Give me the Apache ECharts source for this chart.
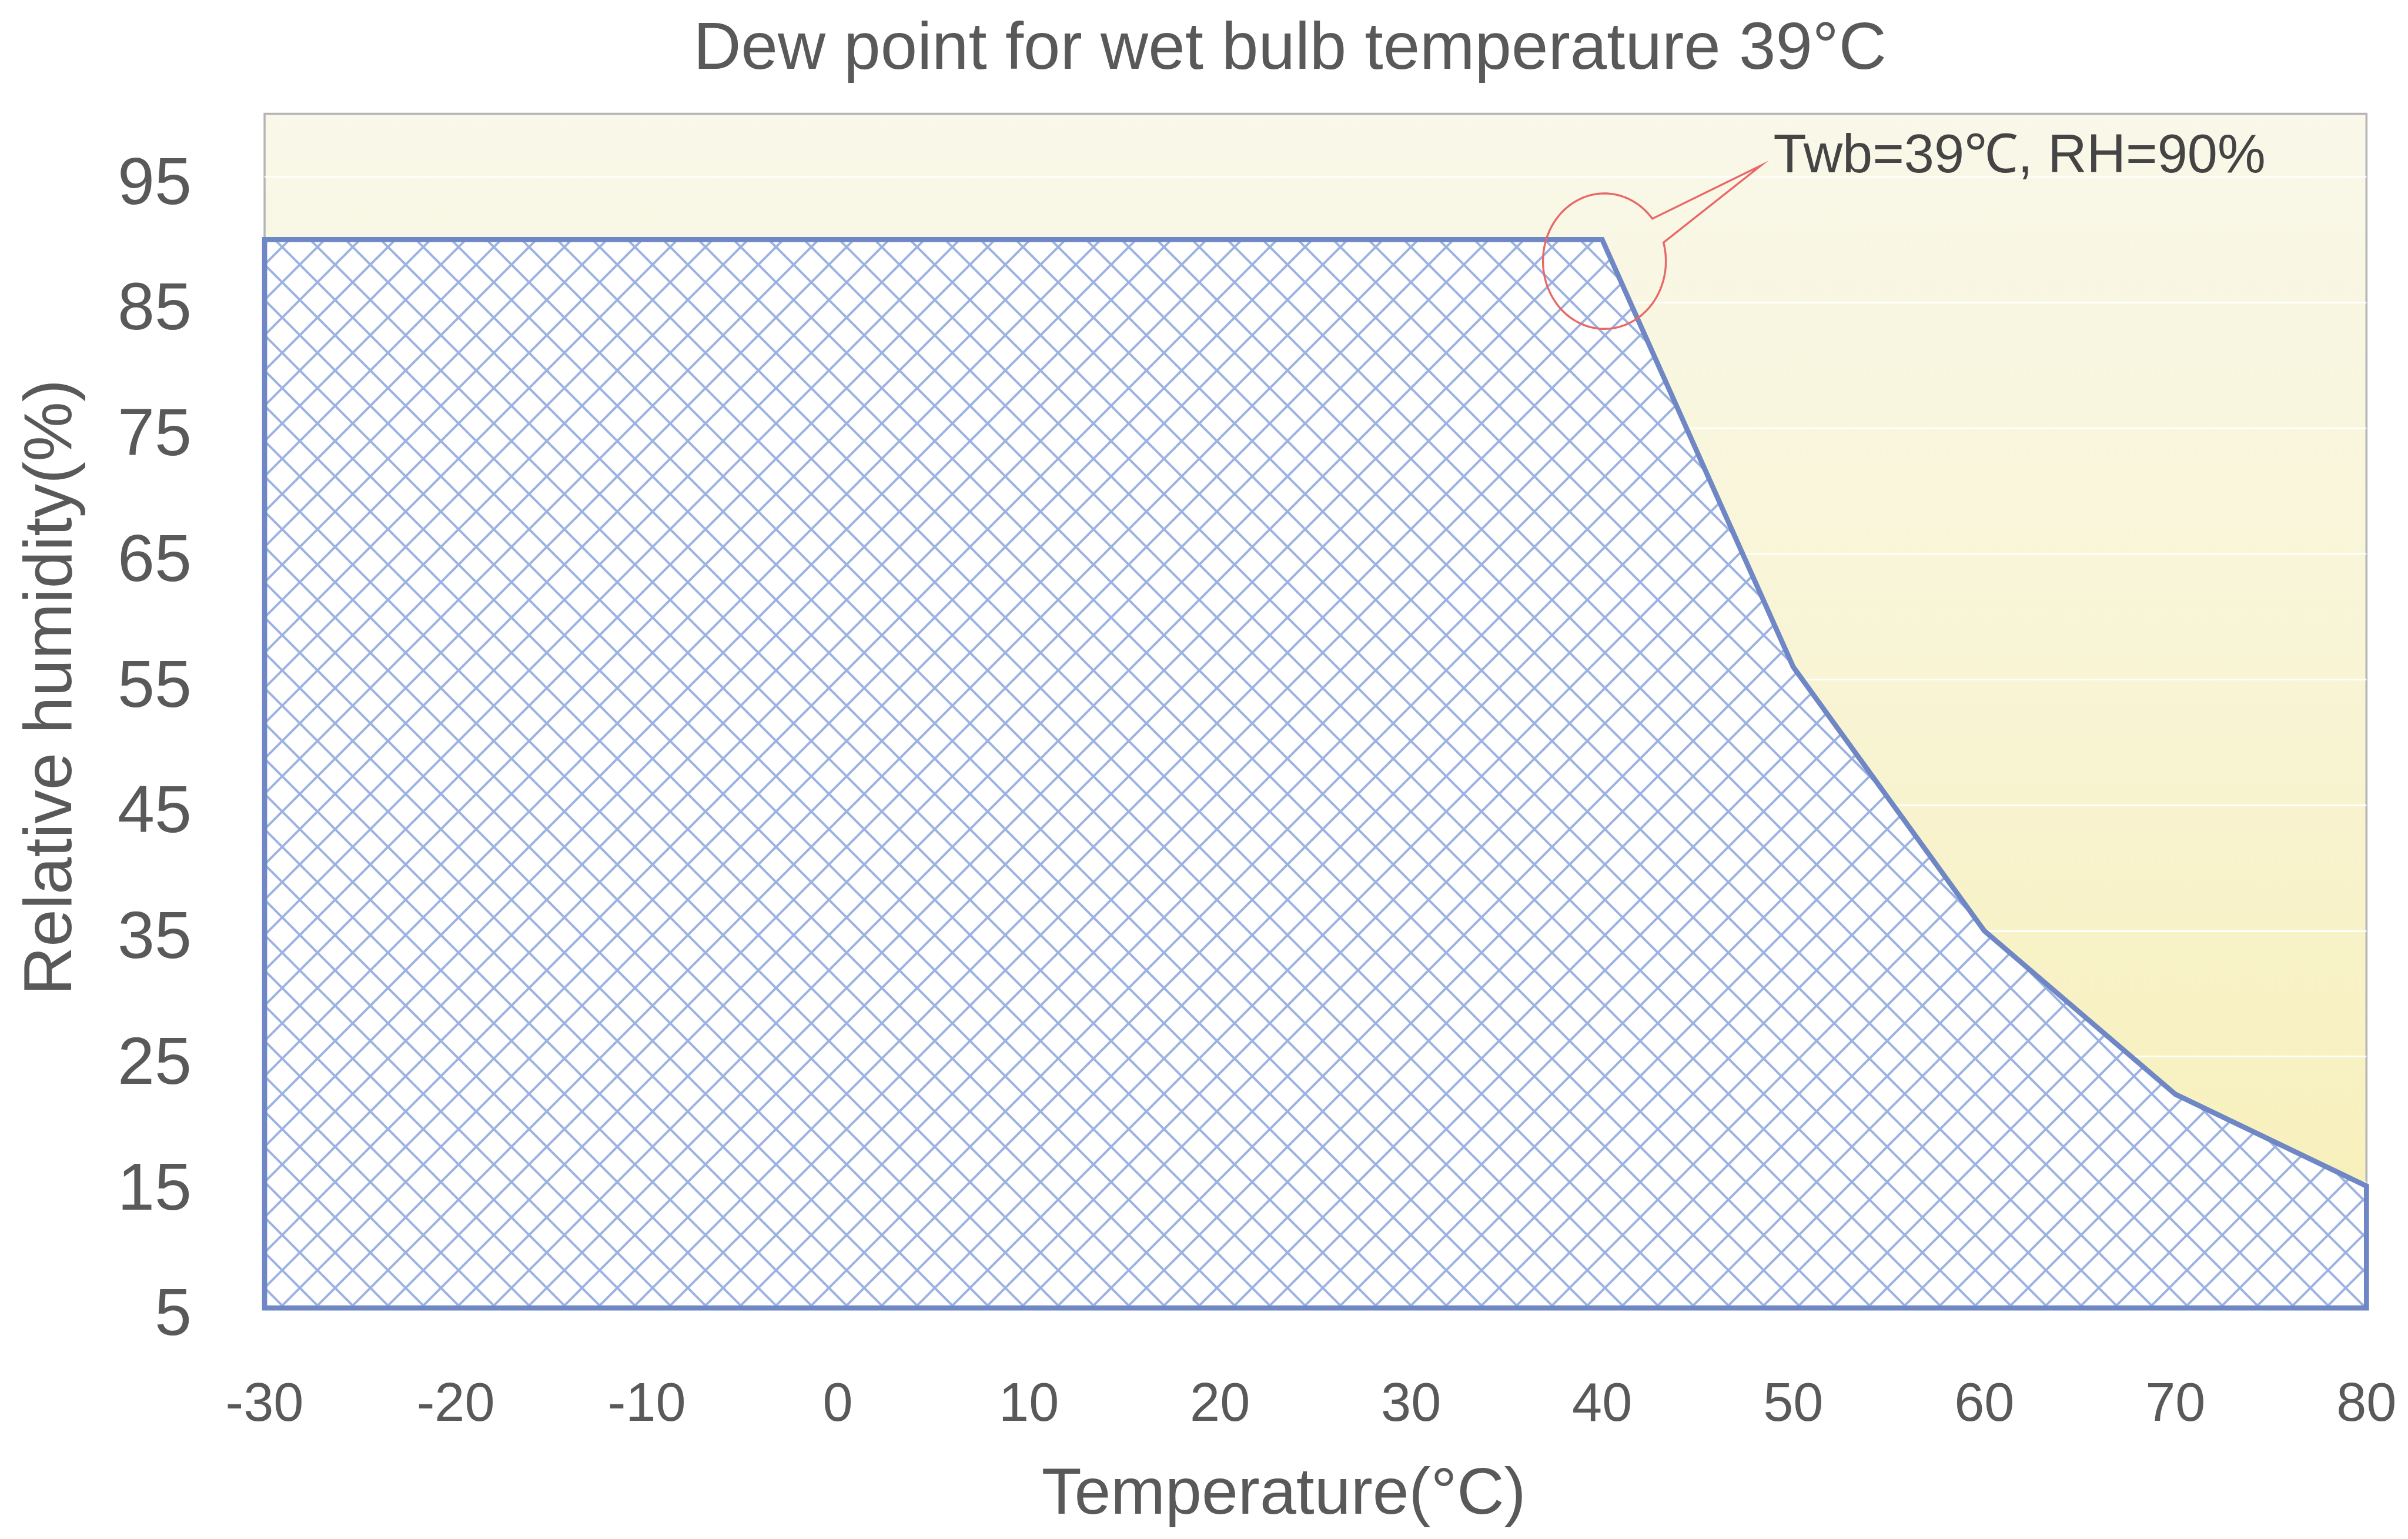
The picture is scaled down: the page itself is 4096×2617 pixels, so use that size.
<!DOCTYPE html>
<html><head><meta charset="utf-8">
<script src="https://cdn.jsdelivr.net/npm/echarts@6/dist/echarts.min.js"></script>
<style>html,body{margin:0;padding:0;background:#fff;}#c{width:4096px;height:2617px;}</style>
</head><body><div id="c"></div>
<script>
// ---- data ----
const titleText = 'Dew point for wet bulb temperature 39°C';
const xAxisName = 'Temperature(°C)';
const yAxisName = 'Relative humidity(%)';
const xTicks = [-30, -20, -10, 0, 10, 20, 30, 40, 50, 60, 70, 80];
const yTicks = [5, 15, 25, 35, 45, 55, 65, 75, 85, 95];
const yMax = 100;
const boundaryTemp = [-30, -30, 40, 50, 60, 70, 80, 80, -30];
const boundaryRH   = [5, 90, 90, 56, 35, 22, 14.7, 5, 5];
const annotationPoint = [40, 90];
const annotationText = 'Twb=39℃, RH=90%';

// ---- styling ----
const S = 4096 / 4232;
const FONT = '"Liberation Sans", Arial, Helvetica, sans-serif';
const TXT = '#595959';

// hatch pattern tile
const tile = Math.round(62 * S);
const pc = document.createElement('canvas');
pc.width = tile; pc.height = tile;
const g = pc.getContext('2d');
g.fillStyle = '#ffffff';
g.fillRect(0, 0, tile, tile);
g.strokeStyle = '#9cb2e1';
g.lineWidth = 4;
for (let k = -1; k <= 1; k++) {
  g.beginPath(); g.moveTo(k * tile, 0); g.lineTo(k * tile + tile, tile); g.stroke();
  g.beginPath(); g.moveTo(k * tile + tile, 0); g.lineTo(k * tile, tile); g.stroke();
}

const chart = echarts.init(document.getElementById('c'), null, {renderer: 'canvas'});
const boundary = boundaryTemp.map((t, i) => [t, boundaryRH[i]]);

chart.setOption({
  animation: false,
  backgroundColor: '#ffffff',
  title: {
    text: titleText,
    left: 2267 * S, top: 30, padding: 0, textAlign: 'center',
    textStyle: {fontSize: 116 * S, fontWeight: 'normal', color: TXT, fontFamily: FONT}
  },
  grid: {
    left: 465 * S, right: (4232 - 4159) * S, top: 200 * S, bottom: (2704 - 2298) * S,
    show: true, borderColor: '#b4b4b4', borderWidth: 3.5,
    outerBoundsMode: 'none',
    backgroundColor: new echarts.graphic.LinearGradient(0, 0, 0, 1, [
      {offset: 0, color: '#f9f8e9'},
      {offset: 0.5, color: '#f8f4d3'},
      {offset: 1, color: '#f8efb6'}
    ])
  },
  xAxis: {
    type: 'value',
    min: xTicks[0], max: xTicks[xTicks.length - 1], interval: xTicks[1] - xTicks[0],
    axisLine: {show: false}, axisTick: {show: false}, splitLine: {show: false},
    axisLabel: {margin: 121, fontSize: 95 * S, color: TXT, fontFamily: FONT},
    name: xAxisName, nameLocation: 'middle', nameGap: 264,
    nameTextStyle: {fontSize: 115 * S, color: TXT, fontFamily: FONT, padding: [0, 108, 0, 0]}
  },
  yAxis: {
    type: 'value',
    min: yTicks[0], max: yMax, interval: yTicks[1] - yTicks[0],
    axisLine: {show: false}, axisTick: {show: false},
    splitLine: {show: true, showMinLine: false, showMaxLine: false,
      lineStyle: {color: 'rgba(255,255,255,0.95)', width: 3}},
    axisLabel: {margin: 124, fontSize: 117 * S, color: TXT, fontFamily: FONT, showMaxLabel: false,
      verticalAlign: 'top', lineHeight: 30},
    name: yAxisName, nameLocation: 'middle', nameGap: 304,
    nameTextStyle: {fontSize: 118 * S, color: TXT, fontFamily: FONT, padding: [0, 0, 0, 80]}
  },
  series: [{
    type: 'line',
    data: boundary,
    showSymbol: false, symbol: 'none', clip: false, silent: true,
    lineStyle: {color: '#6f87c4', width: 9 * S, join: 'miter', cap: 'square'},
    areaStyle: {color: {image: pc, repeat: 'repeat'}, opacity: 1, origin: 'start'},
    z: 3
  }]
});

// ---- callout annotation anchored on the data point ----
const a = chart.convertToPixel({gridIndex: 0}, annotationPoint);
const cx = a[0] + 4 * S, cy = a[1] + 38 * S, rx = 108 * S, ry = 119 * S;
const tip = [a[0] + 279 * S, a[1] - 130 * S];
const a0 = -15.9 * Math.PI / 180, a1 = (360 - 38.8) * Math.PI / 180;
const pts = [];
const N = 160;
for (let i = 0; i <= N; i++) {
  const t = a0 + (a1 - a0) * i / N;
  pts.push([cx + rx * Math.cos(t), cy + ry * Math.sin(t)]);
}
pts.push(tip);
chart.setOption({
  graphic: [
    {type: 'polygon', z: 100, silent: true, shape: {points: pts},
     style: {fill: 'none', stroke: '#e86868', lineWidth: 3.4, lineJoin: 'miter'}},
    {type: 'text', z: 101, silent: true, x: a[0] + 301 * S, y: a[1] - 144.5 * S,
     style: {text: annotationText, fontSize: 95 * S, fontFamily: FONT, fill: '#444444',
             align: 'left', verticalAlign: 'middle'}}
  ]
});
</script>
</body></html>
